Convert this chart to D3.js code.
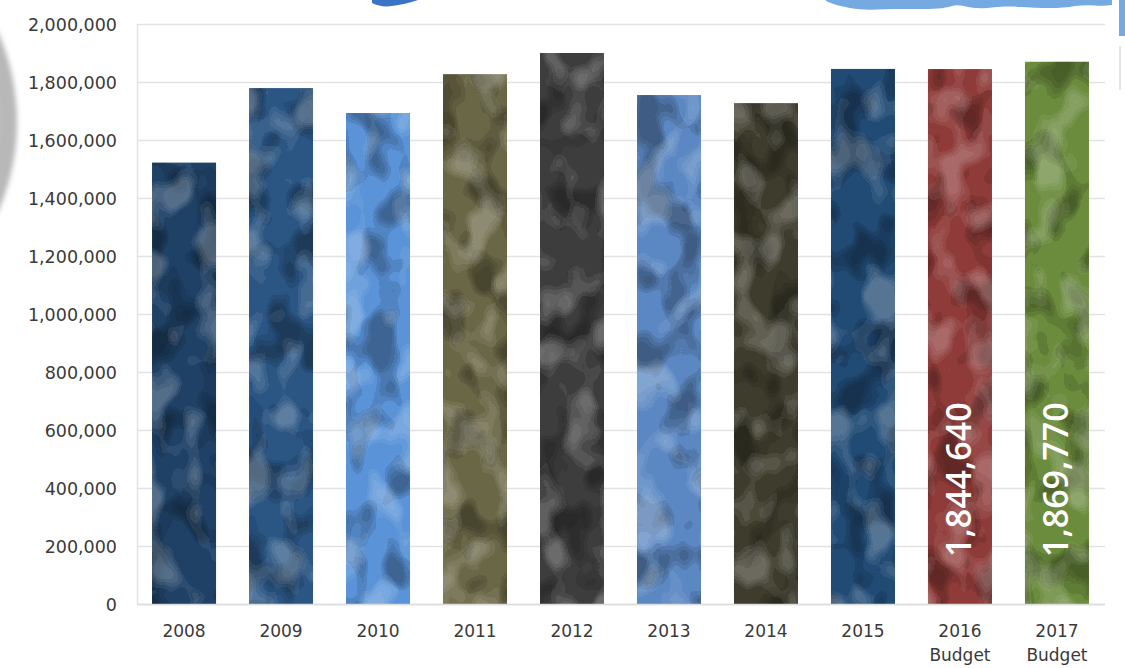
<!DOCTYPE html>
<html>
<head>
<meta charset="utf-8">
<script src="https://cdn.jsdelivr.net/npm/d3@7"></script>
<style>
  html, body { margin: 0; padding: 0; background: #ffffff; }
  svg { display: block; }
</style>
</head>
<body>
<svg id="chart" width="1125" height="668"></svg>
<script>
// ---------- data ----------
const categories = ["2008", "2009", "2010", "2011", "2012", "2013", "2014", "2015", "2016", "2017"];
const subLabels  = ["", "", "", "", "", "", "", "", "Budget", "Budget"];
const values     = [1522000, 1779000, 1693000, 1827000, 1900000, 1755000, 1727000, 1845000, 1844640, 1869770];
const valueLabels = ["", "", "", "", "", "", "", "", "1,844,640", "1,869,770"];
const yTicks     = [0, 200000, 400000, 600000, 800000, 1000000, 1200000, 1400000, 1600000, 1800000, 2000000];

// ---------- style ----------
const palette = ["#1f4166", "#2b5684", "#5a93d8", "#6a6746", "#3d3d3d", "#5b88c2", "#3e3c2c", "#214a74", "#8e3b39", "#6b8b3d"];

const svg = d3.select("#chart");
const W = 1125, H = 668;
const margin = { left: 137, right: 20, top: 24, bottom: 64 };

const x = d3.scaleBand()
  .domain(categories)
  .range([margin.left, 1104])
  .paddingInner(0.34)
  .paddingOuter(0.155);

const y = d3.scaleLinear()
  .domain([0, 2000000])
  .range([H - margin.bottom, margin.top]);

const defs = svg.append("defs");

// crumpled paper texture filters
categories.forEach((c, i) => {
  const f = defs.append("filter")
    .attr("id", "tex" + i)
    .attr("x", "0%").attr("y", "0%").attr("width", "100%").attr("height", "100%")
    .attr("color-interpolation-filters", "sRGB");
  f.append("feTurbulence")
    .attr("type", "fractalNoise")
    .attr("baseFrequency", "0.03 0.022")
    .attr("numOctaves", 2)
    .attr("seed", i * 11 + 5)
    .attr("result", "noise");
  // light patches
  f.append("feColorMatrix").attr("in", "noise").attr("type", "matrix")
    .attr("values", "0 0 0 0 1  0 0 0 0 1  0 0 0 0 1  3.0 0 0 0 -1.2")
    .attr("result", "lightA");
  const ct1 = f.append("feComponentTransfer").attr("in", "lightA").attr("result", "lightP");
  ct1.append("feFuncA").attr("type", "discrete").attr("tableValues", "0 0 0.07 0.13 0.19 0.24");
  f.append("feComposite").attr("in", "lightP").attr("in2", "SourceGraphic").attr("operator", "in").attr("result", "light");
  // dark patches
  f.append("feColorMatrix").attr("in", "noise").attr("type", "matrix")
    .attr("values", "0 0 0 0 0  0 0 0 0 0  0 0 0 0 0  0 3.0 0 0 -1.2")
    .attr("result", "darkA");
  const ct2 = f.append("feComponentTransfer").attr("in", "darkA").attr("result", "darkP");
  ct2.append("feFuncA").attr("type", "discrete").attr("tableValues", "0 0 0.1 0.18 0.26 0.32");
  f.append("feComposite").attr("in", "darkP").attr("in2", "SourceGraphic").attr("operator", "in").attr("result", "dark");
  const m = f.append("feMerge");
  m.append("feMergeNode").attr("in", "SourceGraphic");
  m.append("feMergeNode").attr("in", "dark");
  m.append("feMergeNode").attr("in", "light");
});

// left grey arc decoration (soft)
defs.append("filter").attr("id", "soft").append("feGaussianBlur").attr("stdDeviation", 2.5);
svg.append("circle").attr("cx", -205).attr("cy", 122).attr("r", 222)
  .attr("fill", "#b8b8b8").attr("filter", "url(#soft)");
svg.append("circle").attr("cx", -212).attr("cy", 122).attr("r", 210)
  .attr("fill", "#d4d4d4").attr("filter", "url(#soft)");

// top torn blue paper pieces
svg.append("path")
  .attr("d", "M372,0 L418,0 C410,3 400,5 392,6 C385,7 378,6 372,3 Z")
  .attr("fill", "#3a74c6");
svg.append("path")
  .attr("d", "M826,0 L1112,0 L1112,5 C1100,7 1090,4 1075,6 C1060,9 1040,8 1020,7 C1000,5 990,9 975,8 C965,7 958,4 952,6 C940,10 920,9 900,9 C880,9 865,11 850,8 C840,6 832,4 826,1 Z")
  .attr("fill", "#74a9e2");
svg.append("rect").attr("x", 1119).attr("y", 0).attr("width", 6).attr("height", 36).attr("fill", "#74a9e2");
svg.append("rect").attr("x", 1119).attr("y", 46).attr("width", 2).attr("height", 44).attr("fill", "#e4e4e4");

// gridlines
svg.append("g")
  .selectAll("line")
  .data(yTicks)
  .join("line")
  .attr("x1", margin.left).attr("x2", 1105)
  .attr("y1", d => Math.round(y(d)) + 0.5).attr("y2", d => Math.round(y(d)) + 0.5)
  .attr("stroke", "#e3e3e3").attr("stroke-width", 1.5);

// vertical axis line
svg.append("line")
  .attr("x1", margin.left + 0.5).attr("x2", margin.left + 0.5)
  .attr("y1", y(2000000)).attr("y2", y(0))
  .attr("stroke", "#e3e3e3").attr("stroke-width", 1.5);

// y axis labels
const yAxis = d3.axisLeft(y).tickValues(yTicks).tickSize(0).tickPadding(20)
  .tickFormat(d3.format(","));
const yg = svg.append("g").attr("transform", `translate(${margin.left},0)`).call(yAxis);
yg.select(".domain").remove();
yg.selectAll("text")
  .attr("font-family", "'DejaVu Sans', sans-serif")
  .attr("font-size", 17.5)
  .attr("fill", "#3a3a3a")
  .attr("dy", "0.36em");

// bars
const bars = svg.append("g");
bars.selectAll("rect")
  .data(values)
  .join("rect")
  .attr("x", (d, i) => x(categories[i]))
  .attr("y", d => y(d))
  .attr("width", x.bandwidth())
  .attr("height", d => y(0) - y(d))
  .attr("fill", (d, i) => palette[i])
  .attr("filter", (d, i) => `url(#tex${i})`);

// bottom axis line
svg.append("line")
  .attr("x1", margin.left).attr("x2", 1105)
  .attr("y1", Math.round(y(0)) + 0.5).attr("y2", Math.round(y(0)) + 0.5)
  .attr("stroke", "#dcdcdc").attr("stroke-width", 1.5);

// x axis labels
const xAxis = d3.axisBottom(x).tickSize(0).tickPadding(20);
const xg = svg.append("g").attr("transform", `translate(0,${y(0)})`).call(xAxis);
xg.select(".domain").remove();
xg.selectAll(".tick text").each(function(d, i) {
  const t = d3.select(this);
  t.text(null)
    .attr("font-family", "'DejaVu Sans', sans-serif")
    .attr("font-size", 17)
    .attr("fill", "#3a3a3a")
    .attr("y", 21)
    .attr("dy", "0.71em");
  t.append("tspan").attr("x", 0).text(categories[i]);
  if (subLabels[i]) {
    t.append("tspan").attr("x", 0).attr("dy", "1.4em").text(subLabels[i]);
  }
});

// value labels (rotated, white)
svg.append("g")
  .selectAll("text")
  .data(values.map((v, i) => ({ v, i })).filter(d => valueLabels[d.i]))
  .join("text")
  .attr("transform", d => `translate(${x(categories[d.i]) + x.bandwidth() / 2 + 11},557) rotate(-90)`)
  .attr("font-family", "'Open Sans', sans-serif")
  .attr("font-size", 34)
  .attr("font-weight", 600)
  .attr("fill", "#ffffff")
  .attr("text-anchor", "start")
  .text(d => valueLabels[d.i]);
</script>
</body>
</html>
